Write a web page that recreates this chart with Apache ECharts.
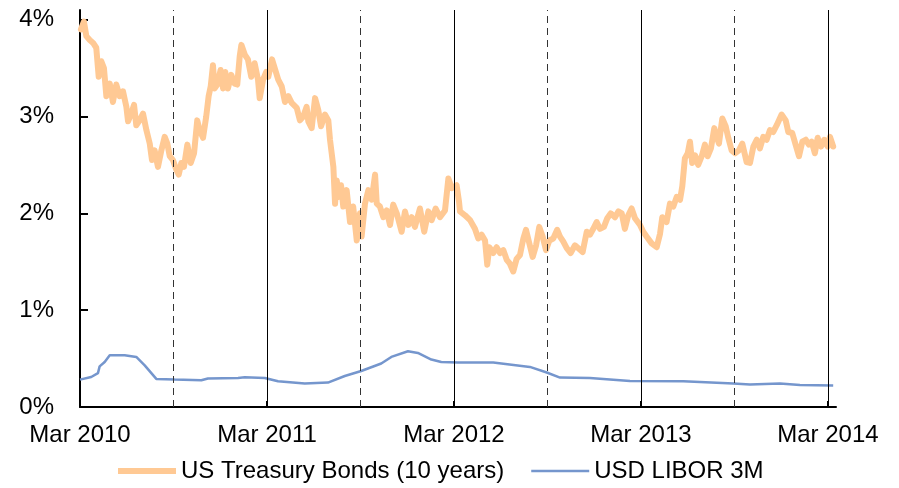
<!DOCTYPE html>
<html>
<head>
<meta charset="utf-8">
<script src="https://cdn.jsdelivr.net/npm/echarts@6/dist/echarts.min.js"></script>
<style>
  html, body { margin: 0; padding: 0; background: #fff; }
  #main { width: 899px; height: 488px; }
</style>
</head>
<body>
<div id="main"></div>
<script>
  // x values are years since Mar 2010
  var tsyYears = [
    0.005, 0.021, 0.034, 0.052, 0.070, 0.087, 0.100, 0.114, 0.128, 0.141, 0.159, 0.176, 0.194, 0.212, 0.230,
    0.248, 0.257, 0.274, 0.289, 0.301, 0.319, 0.337, 0.355, 0.373, 0.385, 0.399, 0.417, 0.435, 0.453, 0.467,
    0.480, 0.497, 0.515, 0.528, 0.542, 0.556, 0.574, 0.592, 0.610, 0.627, 0.640, 0.658, 0.675, 0.688, 0.699,
    0.711, 0.720, 0.734, 0.752, 0.765, 0.777, 0.791, 0.809, 0.827, 0.841, 0.854, 0.863, 0.881, 0.898, 0.916,
    0.934, 0.952, 0.961, 0.979, 0.996, 1.007, 1.027, 1.060, 1.079, 1.096, 1.114, 1.132, 1.159, 1.176, 1.194,
    1.212, 1.221, 1.239, 1.257, 1.274, 1.289, 1.310, 1.328, 1.337, 1.355, 1.364, 1.373, 1.385, 1.396, 1.408,
    1.426, 1.444, 1.461, 1.480, 1.497, 1.506, 1.524, 1.542, 1.560, 1.578, 1.587, 1.604, 1.622, 1.640, 1.658,
    1.675, 1.694, 1.720, 1.738, 1.756, 1.774, 1.791, 1.818, 1.841, 1.863, 1.881, 1.902, 1.925, 1.952, 1.970,
    1.988, 2.014, 2.027, 2.032, 2.059, 2.086, 2.112, 2.130, 2.148, 2.166, 2.178, 2.189, 2.210, 2.228, 2.246,
    2.264, 2.282, 2.299, 2.317, 2.335, 2.353, 2.371, 2.385, 2.403, 2.421, 2.439, 2.456, 2.474, 2.492, 2.510,
    2.531, 2.552, 2.567, 2.584, 2.603, 2.624, 2.647, 2.665, 2.688, 2.710, 2.727, 2.745, 2.763, 2.781, 2.802,
    2.820, 2.838, 2.861, 2.879, 2.897, 2.914, 2.932, 2.950, 2.968, 2.995, 3.012, 3.030, 3.057, 3.084, 3.102,
    3.114, 3.137, 3.155, 3.173, 3.191, 3.209, 3.221, 3.235, 3.250, 3.262, 3.274, 3.289, 3.306, 3.325, 3.342,
    3.357, 3.374, 3.392, 3.405, 3.417, 3.435, 3.453, 3.467, 3.485, 3.503, 3.524, 3.542, 3.565, 3.583, 3.601,
    3.619, 3.636, 3.654, 3.672, 3.690, 3.707, 3.726, 3.752, 3.774, 3.788, 3.809, 3.827, 3.845, 3.863, 3.881,
    3.898, 3.913, 3.930, 3.945, 3.963, 3.980, 3.998, 4.011, 4.028
  ];
  var tsyRates = [
    3.90, 3.98, 3.83, 3.79, 3.76, 3.71, 3.41, 3.57, 3.50, 3.21, 3.34, 3.15, 3.33, 3.21, 3.26,
    3.10, 2.95, 3.03, 3.12, 2.91, 2.96, 3.03, 2.86, 2.72, 2.55, 2.65, 2.48, 2.65, 2.79, 2.72,
    2.59, 2.55, 2.45, 2.40, 2.52, 2.48, 2.71, 2.52, 2.62, 2.96, 2.86, 2.78, 3.00, 3.21, 3.31,
    3.53, 3.29, 3.33, 3.48, 3.29, 3.46, 3.29, 3.43, 3.34, 3.33, 3.62, 3.74, 3.64, 3.59, 3.41,
    3.55, 3.38, 3.19, 3.38, 3.46, 3.41, 3.59, 3.38, 3.31, 3.15, 3.21, 3.14, 3.09, 2.96, 3.00,
    3.10, 2.95, 2.88, 3.19, 3.07, 2.90, 3.02, 2.96, 2.76, 2.48, 2.10, 2.34, 2.17, 2.29, 2.07,
    2.24, 1.91, 2.07, 1.72, 2.00, 1.76, 2.10, 2.24, 2.14, 2.40, 2.10, 2.07, 1.96, 2.03, 1.88,
    2.09, 2.00, 1.81, 2.02, 1.88, 1.96, 1.86, 2.05, 1.81, 2.02, 1.93, 2.05, 1.96, 2.03, 2.36,
    2.26, 2.29, 2.12, 2.02, 1.98, 1.93, 1.84, 1.74, 1.78, 1.72, 1.47, 1.65, 1.59, 1.65, 1.59,
    1.62, 1.52, 1.48, 1.40, 1.53, 1.57, 1.74, 1.83, 1.69, 1.55, 1.67, 1.86, 1.76, 1.62, 1.72,
    1.74, 1.83, 1.76, 1.71, 1.64, 1.59, 1.67, 1.64, 1.60, 1.81, 1.78, 1.84, 1.91, 1.84, 1.86,
    1.95, 2.00, 1.96, 2.02, 2.00, 1.84, 1.98, 2.05, 1.95, 1.88, 1.81, 1.76, 1.69, 1.65, 1.79,
    1.96, 1.91, 2.10, 2.07, 2.17, 2.14, 2.28, 2.57, 2.62, 2.74, 2.52, 2.60, 2.50, 2.59, 2.71,
    2.59, 2.67, 2.88, 2.79, 2.72, 2.98, 2.90, 2.78, 2.65, 2.62, 2.65, 2.72, 2.53, 2.52, 2.69,
    2.76, 2.67, 2.79, 2.76, 2.86, 2.84, 2.91, 3.02, 2.96, 2.84, 2.83, 2.71, 2.59, 2.74, 2.76,
    2.71, 2.74, 2.62, 2.78, 2.69, 2.76, 2.69, 2.79, 2.69
  ];
  var liborYears = [
    0.000, 0.060, 0.096, 0.105, 0.132, 0.159, 0.239, 0.301, 0.346, 0.408, 0.506, 0.649, 0.684, 0.845,
    0.881, 0.988, 1.059, 1.202, 1.326, 1.416, 1.504, 1.611, 1.665, 1.754, 1.807, 1.879, 1.932, 2.021,
    2.210, 2.406, 2.496, 2.567, 2.727, 2.941, 3.226, 3.494, 3.583, 3.743, 3.850, 4.028
  ];
  var liborRates = [
    0.283, 0.31, 0.35, 0.42, 0.465, 0.535, 0.535, 0.517, 0.43, 0.29, 0.283, 0.276, 0.294, 0.30,
    0.307, 0.30, 0.266, 0.242, 0.252, 0.32, 0.372, 0.449, 0.517, 0.576, 0.558, 0.49, 0.465, 0.459,
    0.459, 0.414, 0.356, 0.304, 0.30, 0.269, 0.266, 0.242, 0.232, 0.242, 0.228, 0.221
  ];
  var xTicks = [0, 1, 2, 3, 4];
  var xTickLabels = ['Mar 2010', 'Mar 2011', 'Mar 2012', 'Mar 2013', 'Mar 2014'];
  var halfYears = [0.5, 1.5, 2.5, 3.5];
  var yTicks = [0, 1, 2, 3, 4];

  function pairs(xs, ys) {
    return xs.map(function (x, i) { return [x, ys[i]]; });
  }

  var font = '"Liberation Sans", Arial, sans-serif';
  var orange = '#FFC994';
  var blue = '#7596CD';
  var vLines = xTicks.slice(1).map(function (v) {
    return { xAxis: v, lineStyle: { color: '#000', width: 1, type: 'solid' } };
  }).concat(halfYears.map(function (v) {
    return { xAxis: v, lineStyle: { color: '#333', width: 1, type: [7, 5] } };
  }));

  var chart = echarts.init(document.getElementById('main'));
  chart.setOption({
    animation: false,
    textStyle: { fontFamily: font, color: '#000' },
    grid: { left: 80, right: 63, top: 10, bottom: 81 },
    legend: {
      left: 118,
      top: 459,
      padding: 0,
      itemWidth: 58,
      itemHeight: 6,
      itemGap: 27,
      data: [
        { name: 'US Treasury Bonds (10 years)', icon: 'path://M0 0H58V6H0Z' },
        { name: 'USD LIBOR 3M', icon: 'path://M0 0H58V2.5H0Z' }
      ],
      textStyle: { fontSize: 24, color: '#000', fontFamily: font }
    },
    xAxis: {
      type: 'value',
      min: 0,
      max: 4.043,
      axisLine: { lineStyle: { color: '#000', width: 2 } },
      axisTick: { inside: true, length: 6, customValues: xTicks, lineStyle: { color: '#000', width: 2 } },
      axisLabel: {
        customValues: xTicks,
        fontSize: 24,
        color: '#000',
        margin: 16,
        formatter: function (v) { return xTickLabels[xTicks.indexOf(Math.round(v))]; }
      },
      splitLine: { show: false }
    },
    yAxis: {
      type: 'value',
      min: 0,
      max: 4.1,
      axisLine: { show: true, lineStyle: { color: '#000', width: 2 } },
      axisTick: { show: true, inside: true, length: 8, customValues: yTicks, lineStyle: { color: '#000', width: 2 } },
      axisLabel: { customValues: yTicks, fontSize: 24, color: '#000', margin: 26, formatter: '{value}%' },
      splitLine: { show: false }
    },
    series: [
      {
        name: 'USD LIBOR 3M',
        type: 'line',
        symbol: 'none',
        z: 2,
        data: pairs(liborYears, liborRates),
        lineStyle: { color: blue, width: 2.5 },
        itemStyle: { color: blue },
        markLine: {
          silent: true,
          symbol: ['none', 'none'],
          label: { show: false },
          data: vLines
        }
      },
      {
        name: 'US Treasury Bonds (10 years)',
        type: 'line',
        symbol: 'none',
        z: 3,
        data: pairs(tsyYears, tsyRates),
        lineStyle: { color: orange, width: 6, join: 'round', cap: 'round' },
        itemStyle: { color: orange }
      }
    ]
  });
</script>
</body>
</html>
